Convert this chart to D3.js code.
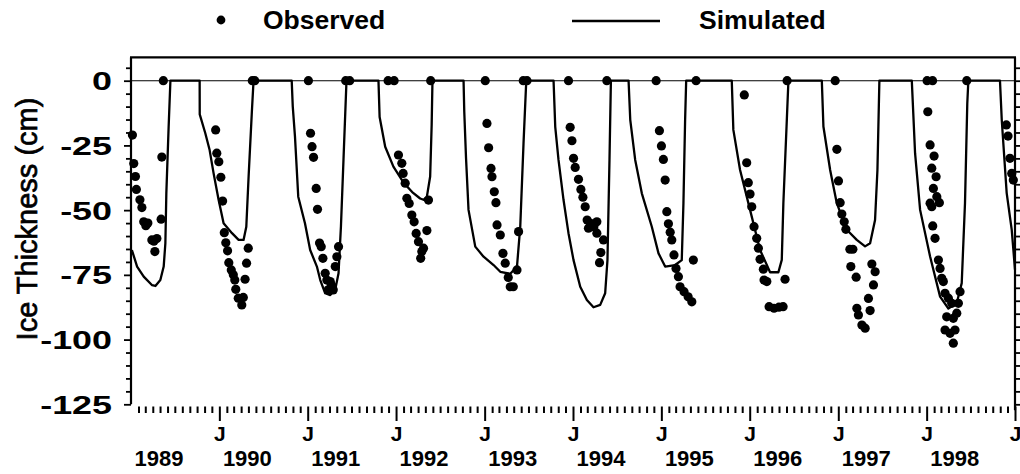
<!DOCTYPE html>
<html><head><meta charset="utf-8">
<script src="https://cdn.jsdelivr.net/npm/d3@7"></script>
<style>html,body{margin:0;padding:0;background:#fff;}svg{display:block;}</style>
</head><body>
<svg id="chart" width="1020" height="474"></svg>
<script>
// ---------- data ----------
const yMajorTicks = [0, -25, -50, -75, -100, -125];
const yearLabels = ["1989","1990","1991","1992","1993","1994","1995","1996","1997","1998"];
const januaryLabel = "J";
const legendLabels = ["Observed", "Simulated"];
const yTitle = "Ice Thickness (cm)";

// simulated ice thickness (decimal year, cm)
const simulatedTime = [
 1989.010,1989.069,1989.144,1989.239,1989.276,1989.332,1989.370,1989.389,1989.400,1989.426,1989.446,
 1989.777,1989.778,1989.841,1989.890,1989.935,1989.992,1990.048,1990.143,1990.218,1990.274,1990.305,1990.331,1990.369,1990.387,
 1990.819,1990.831,1990.856,1990.893,1990.969,1991.028,1991.104,1991.142,1991.198,1991.255,1991.311,1991.349,1991.376,1991.405,1991.439,
 1991.801,1991.814,1991.877,1991.970,1992.083,1992.182,1992.272,1992.310,1992.348,1992.385,1992.402,1992.411,
 1992.762,1992.770,1992.790,1992.818,1992.894,1992.988,1993.101,1993.177,1993.290,1993.366,1993.403,1993.440,1993.471,
 1993.780,1993.799,1993.836,1993.893,1993.949,1994.006,1994.082,1994.157,1994.232,1994.308,1994.364,1994.390,1994.413,1994.429,
 1994.629,1994.648,1994.704,1994.779,1994.892,1994.968,1995.043,1995.156,1995.231,1995.250,1995.269,1995.281,
 1995.797,1995.815,1995.891,1996.004,1996.117,1996.230,1996.324,1996.362,1996.380,1996.419,1996.437,
 1996.814,1996.832,1996.908,1996.983,1997.096,1997.209,1997.303,1997.360,1997.416,1997.443,1997.465,
 1997.832,1997.869,1997.926,1998.039,1998.152,1998.246,1998.341,1998.397,1998.434,1998.460,1998.472,
 1998.830,1998.850,1998.906,1998.963,1999.000
];
const simulatedThickness = [
 -65.4,-71.8,-75.7,-79.0,-79.3,-77.0,-71.8,-62.8,-43.5,-17.8,0,
 0,-13.0,-20.3,-26.8,-35.8,-46.1,-55.1,-58.9,-61.5,-61.5,-56.4,-37.1,-11.3,0,
 0,-10.0,-21.6,-44.8,-55.1,-65.4,-71.8,-77.0,-82.1,-82.8,-80.8,-74.4,-56.4,-30.6,0,
 0,-14.0,-25.5,-33.2,-39.3,-43.0,-45.5,-46.0,-44.8,-37.0,-17.0,0,
 0,-12.0,-30.0,-49.9,-64.1,-68.0,-71.2,-73.8,-74.6,-71.8,-56.4,-24.2,0,
 0,-17.8,-30.6,-46.1,-58.9,-69.3,-79.6,-84.7,-87.5,-86.6,-82.1,-69.3,-30.6,0,
 0,-15.1,-30.6,-43.5,-56.4,-66.7,-71.8,-71.2,-69.3,-47.3,-15.1,0,
 0,-19.0,-34.5,-49.9,-65.4,-74.0,-74.0,-69.2,-47.3,-15.1,0,
 0,-17.7,-34.5,-47.3,-57.6,-61.5,-64.0,-62.8,-53.8,-34.5,0,
 0,-28.0,-49.9,-67.9,-83.4,-88.0,-85.9,-78.2,-47.3,-8.7,0,
 0,-15.1,-43.4,-57.6,-73.0
];

// observed ice thickness (decimal year, cm)
const observedTime = [
 1989.016,1989.031,1989.050,1989.061,1989.101,1989.123,1989.144,1989.168,1989.191,1989.236,1989.259,1989.293,1989.270,1989.341,1989.349,1989.366,
 1989.958,1989.971,1989.994,1990.017,1990.037,1990.056,1990.073,1990.093,1990.107,1990.135,1990.158,1990.175,1990.186,1990.214,1990.254,1990.271,1990.291,1990.308,1990.327,1990.373,1990.401,
 1991.008,1991.032,1991.049,1991.066,1991.096,1991.111,1991.134,1991.153,1991.172,1991.198,1991.217,1991.232,1991.255,1991.270,1991.289,1991.312,1991.330,1991.349,1991.430,1991.475,
 1991.910,1991.978,1992.027,1992.065,1992.080,1992.103,1992.122,1992.148,1992.178,1992.204,1992.227,1992.253,1992.278,1992.291,1992.310,1992.348,1992.366,1992.391,
 1993.007,1993.026,1993.045,1993.072,1993.083,1993.109,1993.128,1993.140,1993.177,1993.207,1993.233,1993.267,1993.290,1993.324,1993.366,1993.384,1993.437,1993.479,
 1993.949,1993.968,1993.988,1994.006,1994.025,1994.062,1994.089,1994.112,1994.138,1994.160,1994.198,1994.175,1994.236,1994.270,1994.270,1994.345,1994.315,1994.300,1994.383,
 1994.941,1994.978,1995.001,1995.023,1995.043,1995.062,1995.080,1995.100,1995.118,1995.143,1995.166,1995.193,1995.212,1995.257,1995.303,1995.345,1995.362,1995.393,
 1995.939,1995.966,1995.984,1996.004,1996.023,1996.049,1996.079,1996.098,1996.117,1996.154,1996.162,1996.193,1996.399,1996.219,1996.275,1996.330,1996.377,1996.422,
 1996.965,1996.984,1997.002,1997.021,1997.040,1997.067,1997.086,1997.131,1997.165,1997.142,1997.202,1997.380,1997.417,1997.398,1997.341,1997.360,1997.210,1997.228,1997.267,1997.304,
 1998.005,1998.067,1998.013,1998.039,1998.084,1998.058,1998.107,1998.076,1998.115,1998.144,1998.039,1998.058,1998.069,1998.095,1998.133,1998.152,1998.171,1998.189,1998.208,1998.246,1998.284,1998.378,1998.359,1998.341,1998.227,1998.302,1998.208,1998.265,1998.321,1998.302,1998.454,
 1998.902,1998.921,1998.943,1998.963,1998.981
];
const observedThickness = [
 -21,-32,-37,-42,-46,-49,-54.5,-56,-55,-61.5,-62,-61,-66,-53.5,-29.5,0,
 -19,-28,-31.3,-37.3,-46.5,-58.7,-62.6,-65.7,-70.3,-73.1,-75,-77,-80.6,-84,-86.6,-83.7,-76.7,-70.5,-64.7,0,0,
 0,-20.3,-25.5,-29.6,-41.6,-49.7,-62.7,-64.1,-68.6,-74.4,-77,-80.8,-77.6,-79,-80.8,-71.8,-68,-64.1,0,0,
 0,0,-28.7,-31.9,-35.8,-39.6,-45.4,-47.4,-51.9,-54.5,-59,-62.2,-68.6,-66,-64.7,-57.9,-46.1,0,
 0,-16.5,-25.9,-33.9,-37.1,-42.9,-47.1,-55.7,-59.6,-66.7,-70.5,-76,-79.6,-79.6,-73.1,-58.3,0,0,
 0,-18,-23.2,-30,-33.5,-38.1,-42,-45,-48.7,-53.8,-55.1,-57,-56.4,-54.5,-58.9,-61.5,-66.4,-70.3,0,
 0,-19.3,-25.2,-30.4,-38.4,-50.6,-55.3,-58.5,-61.5,-67.3,-72.5,-75.7,-79.6,-81.5,-83.5,-85.4,-69.3,0,
 -5.5,-31.7,-39.4,-43.8,-48.7,-56.4,-60.9,-64.7,-69,-72.8,-77,-77.6,-76.7,-87.3,-87.9,-87.5,-87.3,0,
 0,-26.5,-38.7,-47.1,-51.5,-54.5,-57.4,-65.1,-65.1,-71.8,-75.9,-70.8,-73.8,-78.9,-84.1,-88.8,-87.9,-90.5,-94.4,-95.6,
 0,0,-12,-24.8,-29.1,-33.8,-37.1,-41.6,-44.8,-47.1,-47.3,-48.7,-56.1,-60.9,-69.3,-72.5,-76.3,-77.6,-82.1,-84,-86,-81.5,-86,-89.8,-91.2,-91.8,-96.3,-97.6,-96.3,-101.4,0,
 -17.1,-21.4,-30,-35.8,-38.4
];

// ---------- helpers ----------
function toDate(dy) {
  const yr = Math.floor(dy);
  const a = new Date(yr, 0, 1), b = new Date(yr + 1, 0, 1);
  return new Date(a.getTime() + (dy - yr) * (b - a));
}
const simulated = simulatedTime.map((t, i) => ({date: toDate(t), v: simulatedThickness[i]}));
const observed = observedTime.map((t, i) => ({date: toDate(t), v: observedThickness[i]}));

const FONT = "'Liberation Sans', Arial, Helvetica, sans-serif";
const svg = d3.select("#chart");
const plotLeft = 131, plotRight = 1015, plotTop = 57.4, plotBottom = 404.3;

const x = d3.scaleTime()
  .domain([new Date(1989, 0, 1), new Date(1999, 0, 1)])
  .range([plotLeft, plotRight]);
const y = d3.scaleLinear().domain([-125, 9]).range([plotBottom, plotTop]);

// ---------- frame / axes ----------
const yMinor = d3.range(-125, 10, 5);

const gL = svg.append("g").attr("transform", `translate(${plotLeft},0)`)
  .call(d3.axisLeft(y).tickValues(yMinor).tickSize(5).tickSizeOuter(0).tickFormat(""));
gL.select(".domain").remove();
gL.selectAll(".tick line").attr("stroke", "#000").attr("stroke-width", 1.8)
  .attr("x2", d => yMajorTicks.includes(d) ? -7 : -5);

const gR = svg.append("g").attr("transform", `translate(${plotRight},0)`)
  .call(d3.axisRight(y).tickValues(yMinor).tickSize(5).tickSizeOuter(0).tickFormat(""));
gR.select(".domain").remove();
gR.selectAll(".tick line").attr("stroke", "#000").attr("stroke-width", 1.8);

// frame lines (left, right, top)
svg.append("line").attr("x1", plotLeft).attr("x2", plotLeft).attr("y1", plotTop).attr("y2", plotBottom)
  .attr("stroke", "#000").attr("stroke-width", 2.2);
svg.append("line").attr("x1", plotRight).attr("x2", plotRight).attr("y1", plotTop).attr("y2", plotBottom + 6)
  .attr("stroke", "#000").attr("stroke-width", 2.2);
svg.append("line").attr("x1", plotLeft - 1).attr("x2", plotRight + 1).attr("y1", plotTop).attr("y2", plotTop)
  .attr("stroke", "#000").attr("stroke-width", 2.4);

// y tick labels (wide bold type)
svg.append("g").selectAll("text").data(yMajorTicks).join("text")
  .attr("transform", d => `translate(112,${y(d)}) scale(1.38,1)`)
  .attr("dy", "0.36em").attr("text-anchor", "end")
  .attr("font-family", FONT).attr("font-weight", "bold").attr("font-size", 26)
  .text(d => d === 0 ? "0" : "-" + Math.abs(d));

// y title
svg.append("text")
  .attr("transform", `translate(37,219) rotate(-90)`)
  .attr("text-anchor", "middle")
  .attr("font-family", FONT).attr("font-size", 29)
  .attr("stroke", "#000").attr("stroke-width", 0.7)
  .text(yTitle);

// bottom month ticks (no baseline)
const tickTop = 406.5;
const months = d3.timeMonth.range(new Date(1989, 1, 1), new Date(1999, 0, 1))
  .filter(d => d.getMonth() !== 0);
const gM = svg.append("g").attr("transform", `translate(0,${tickTop})`)
  .call(d3.axisBottom(x).tickValues(months).tickSize(6.5).tickSizeOuter(0).tickFormat(""));
gM.select(".domain").remove();
gM.selectAll(".tick line").attr("stroke", "#000").attr("stroke-width", 2);

const januaries = d3.timeYear.range(new Date(1990, 0, 1), new Date(1999, 0, 2));
const gJ = svg.append("g").attr("transform", `translate(0,${tickTop})`)
  .call(d3.axisBottom(x).tickValues(januaries).tickSize(14.5).tickPadding(5)
    .tickSizeOuter(0).tickFormat(() => januaryLabel));
gJ.select(".domain").remove();
gJ.selectAll(".tick line").attr("stroke", "#000").attr("stroke-width", 2);
gJ.selectAll(".tick text").attr("font-family", FONT).attr("font-weight", "bold")
  .attr("font-size", 21).attr("fill", "#000");

// year labels
svg.append("g").selectAll("text").data(yearLabels).join("text")
  .attr("x", d => x(new Date(+d, 0, 1)) + 28)
  .attr("y", 466)
  .attr("text-anchor", "middle")
  .attr("font-family", FONT).attr("font-weight", "bold").attr("font-size", 22)
  .text(d => d);

// zero reference line
svg.append("line").attr("x1", plotLeft).attr("x2", plotRight).attr("y1", y(0)).attr("y2", y(0))
  .attr("stroke", "#000").attr("stroke-width", 1.1);

// ---------- marks ----------
const line = d3.line().x(d => x(d.date)).y(d => y(d.v));
svg.append("path").datum(simulated).attr("d", line)
  .attr("fill", "none").attr("stroke", "#000").attr("stroke-width", 2.3)
  .attr("stroke-linejoin", "round");

svg.append("g").selectAll("circle").data(observed).join("circle")
  .attr("cx", d => x(d.date)).attr("cy", d => y(d.v)).attr("r", 4.6)
  .attr("fill", "#000");

// ---------- legend ----------
svg.append("circle").attr("cx", 221).attr("cy", 20).attr("r", 4.4).attr("fill", "#000");
svg.append("text").attr("x", 263).attr("y", 29)
  .attr("font-family", FONT).attr("font-weight", "bold").attr("font-size", 26.5)
  .text(legendLabels[0]);
svg.append("line").attr("x1", 572).attr("x2", 660).attr("y1", 21).attr("y2", 21)
  .attr("stroke", "#000").attr("stroke-width", 2.3);
svg.append("text").attr("x", 699).attr("y", 29)
  .attr("font-family", FONT).attr("font-weight", "bold").attr("font-size", 26.5)
  .text(legendLabels[1]);
</script>
</body></html>
